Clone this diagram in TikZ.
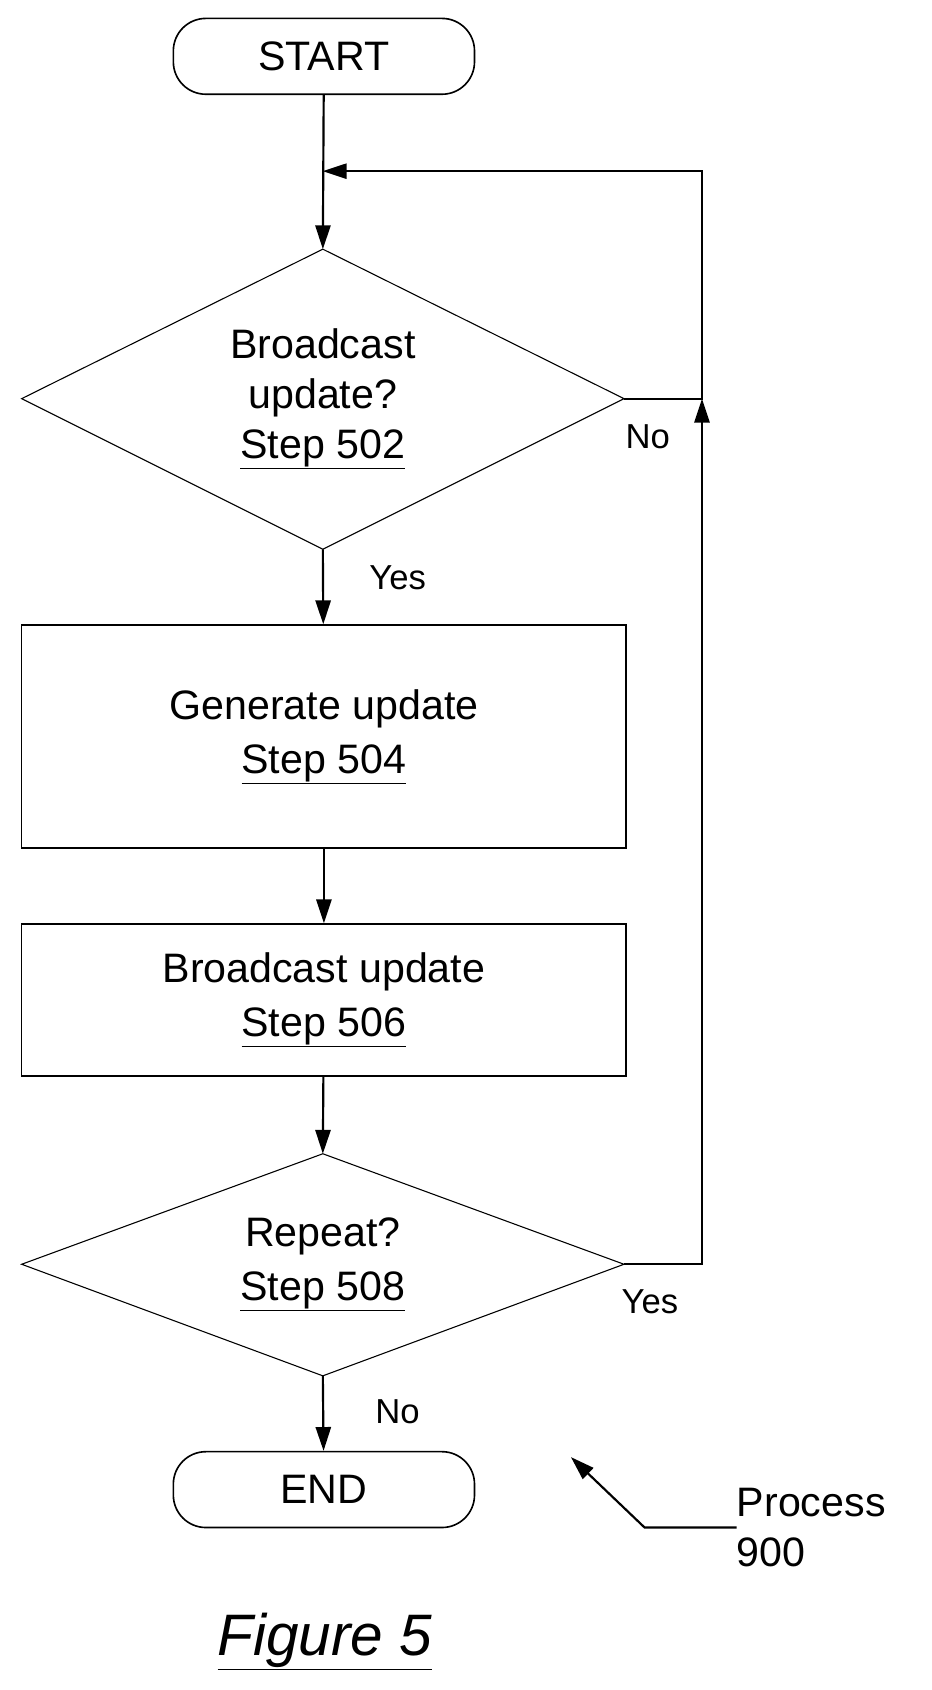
\documentclass[tikz,border=0pt]{standalone}
\usepackage{fontspec}
\setmainfont{Liberation Sans}
\usetikzlibrary{shapes.geometric,arrows.meta}
\begin{document}
\begin{tikzpicture}[x=1pt,y=-1pt,
  every node/.style={font=\fontsize{38}{46}\selectfont, align=center, inner sep=0},
  box/.style={draw, line width=1.5pt, minimum width=558pt},
  term/.style={draw, line width=1.5pt, rounded corners=30pt, minimum width=278pt, minimum height=70pt},
  dia/.style={draw, line width=1pt, diamond, minimum width=556pt, aspect=2},
  ln/.style={line width=2pt},
  arr/.style={line width=2pt, -{Triangle[length=22pt,width=14pt]}},
  lbl/.style={font=\fontsize{32}{38}\selectfont}]
\useasboundingbox (0,0) rectangle (860,1560);
\node[term] (start) at (299,52) {START};
\draw[dia] (298,230) -- (576,368) -- (298,507) -- (20,368) -- cycle;
\coordinate (d1t) at (298,230); \coordinate (d1b) at (298,507); \coordinate (d1r) at (576,368);
\node (d1) at (298,368) {Broadcast\\update?\\\underline{Step 502}};
\node[box, minimum height=206pt] (b1) at (299,680) {Generate update\\[4pt]\underline{Step 504}};
\node[box, minimum height=140pt] (b2) at (299,923) {Broadcast update\\[4pt]\underline{Step 506}};
\draw[dia] (298,1065) -- (576,1167) -- (298,1270) -- (20,1167) -- cycle;
\coordinate (d2t) at (298,1065); \coordinate (d2b) at (298,1270); \coordinate (d2r) at (576,1167);
\node (d2) at (298,1167) {Repeat?\\[4pt]\underline{Step 508}};
\node[term] (end) at (299,1375) {END};
\coordinate (j) at (298,158);
\coordinate (r1) at (648,368); \coordinate (rt) at (648,158); \coordinate (r2) at (648,1167);
\draw[arr] (start) -- (d1t);
\draw[arr] (d1b) -- (b1);
\draw[arr] (b1) -- (b2);
\draw[arr] (b2) -- (d2t);
\draw[arr] (d2b) -- (end);
\draw[arr] (d2r) -- (r2) -- (r1);
\draw[arr] (d1r) -- (r1) -- (rt) -- (j);
\node[lbl] at (598,403) {No};
\node[lbl] at (367,533) {Yes};
\node[lbl] at (600,1202) {Yes};
\node[lbl] at (367,1303) {No};
\node[anchor=west, align=left] (proc) at (680,1410) {Process\\900};
\coordinate (pk) at (595,1410);
\coordinate (pt) at (527,1345);
\draw[arr] (proc.west) -- (pk) -- (pt);
\node[font=\fontsize{54}{60}\selectfont\itshape] (fig) at (300,1515) {\underline{Figure 5}};
\end{tikzpicture}
\end{document}
